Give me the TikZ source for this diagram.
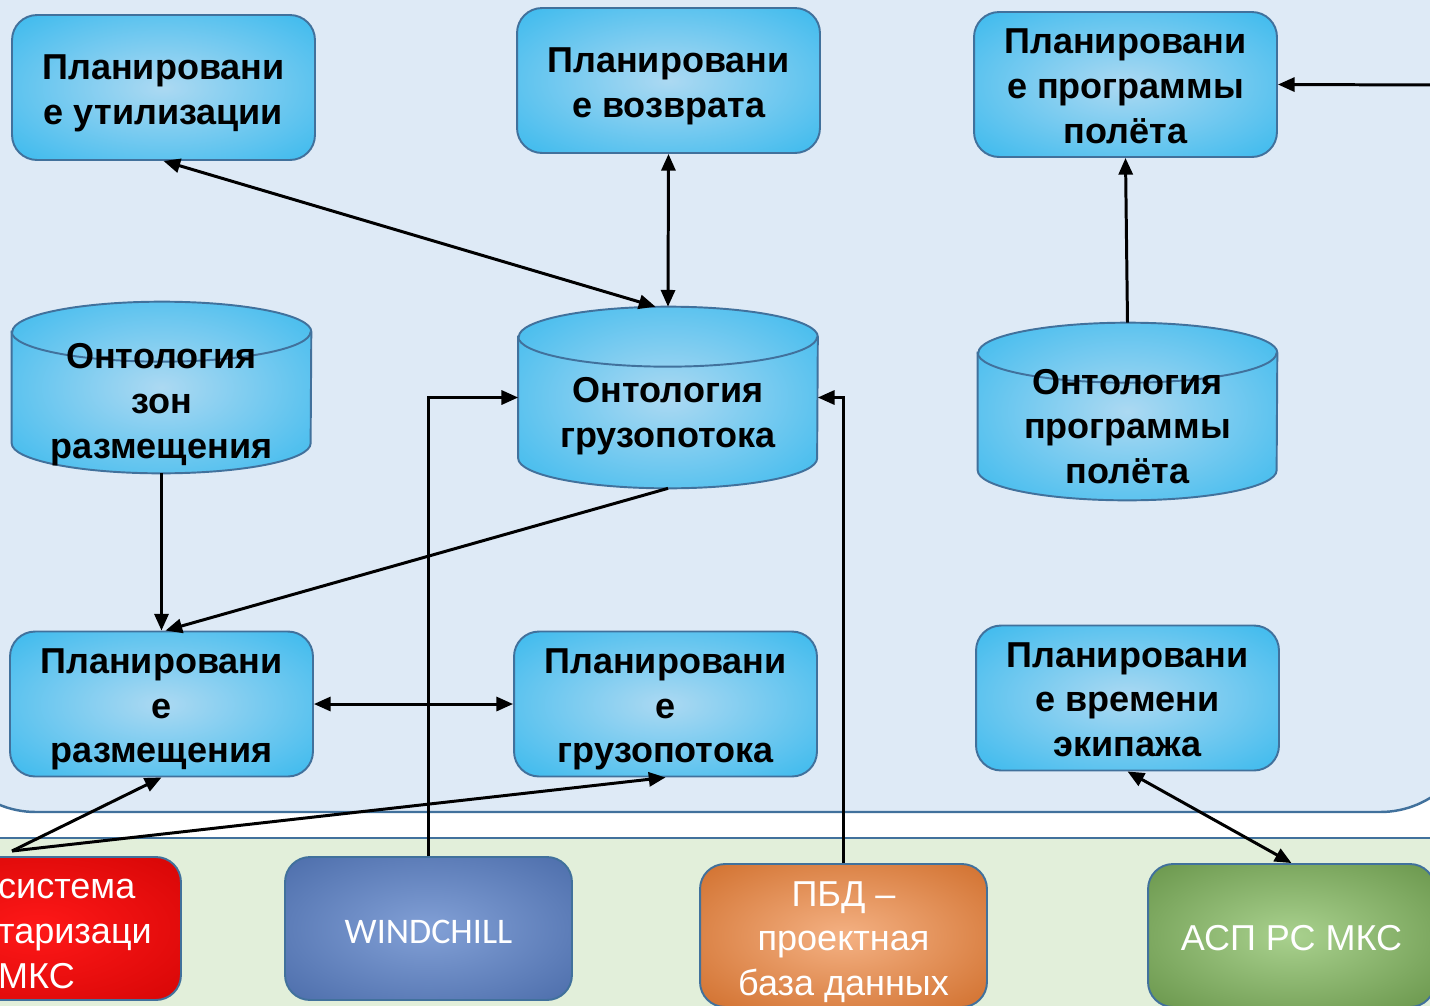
\documentclass[tikz,border=0pt]{standalone}
\usepackage{fontspec}
\setmainfont{Liberation Sans}
\newfontfamily\carlito{Carlito}
\usetikzlibrary{arrows.meta}

\definecolor{panelblue}{RGB}{222,234,246}
\definecolor{panelgreen}{RGB}{226,239,218}
\definecolor{rim}{RGB}{65,113,156}
\definecolor{skyin}{RGB}{172,217,242}
\definecolor{skyout}{RGB}{20,175,236}
\definecolor{redin}{RGB}{255,24,24}
\definecolor{redout}{RGB}{200,0,0}
\definecolor{navyin}{RGB}{130,160,214}
\definecolor{navyout}{RGB}{58,92,156}
\definecolor{rustin}{RGB}{244,177,131}
\definecolor{rustout}{RGB}{197,90,17}
\definecolor{mossin}{RGB}{169,209,142}
\definecolor{mossout}{RGB}{84,130,53}

\pgfdeclareradialshading{skyglow}{\pgfpoint{0bp}{0bp}}{color(0bp)=(skyin); color(48bp)=(skyout); color(50bp)=(skyout)}
\pgfdeclareradialshading{redglow}{\pgfpoint{0bp}{0bp}}{color(0bp)=(redin); color(48bp)=(redout); color(50bp)=(redout)}
\pgfdeclareradialshading{navyglow}{\pgfpoint{0bp}{0bp}}{color(0bp)=(navyin); color(48bp)=(navyout); color(50bp)=(navyout)}
\pgfdeclareradialshading{rustglow}{\pgfpoint{0bp}{0bp}}{color(0bp)=(rustin); color(48bp)=(rustout); color(50bp)=(rustout)}
\pgfdeclareradialshading{mossglow}{\pgfpoint{0bp}{0bp}}{color(0bp)=(mossin); color(48bp)=(mossout); color(50bp)=(mossout)}

% extra room above the first line of a box
\newcommand{\lift}[1]{\rule{0pt}{#1}}

% drum outline drawn round a named node
\newcommand{\ontdrum}[1]{%
  \shade[shading=skyglow, draw=rim, line width=1.1pt]
    ([yshift=-0.6cm]#1.north west) -- ([yshift=0.6cm]#1.south west)
    arc[start angle=180, end angle=360, x radius=2.99cm, y radius=0.6cm]
    -- ([yshift=-0.6cm]#1.north east)
    arc[start angle=0, end angle=180, x radius=2.99cm, y radius=0.6cm] -- cycle;
  \draw[rim, line width=1.1pt] ([yshift=-0.6cm]#1.north west)
    arc[start angle=180, end angle=360, x radius=2.99cm, y radius=0.6cm];
}

\tikzset{
  panel/.style={draw=rim, line width=1.4pt},
  plan/.style={draw=rim, line width=1.1pt, shading=skyglow, rounded corners=0.5cm,
    minimum width=6.06cm, minimum height=2.9cm, inner sep=1pt, align=center,
    font=\fontsize{20.5}{25.5}\selectfont\bfseries},
  ontology/.style={minimum width=5.98cm, inner sep=0pt},
  ontlabel/.style={align=center, yshift=-0.34cm,
    font=\fontsize{20.5}{25.5}\selectfont\bfseries},
  source/.style={draw=rim, line width=1.1pt, rounded corners=0.5cm,
    minimum width=5.74cm, minimum height=2.86cm, inner sep=0pt, align=center,
    text=white, font=\fontsize{20.5}{25.5}\selectfont},
  link/.style={line width=1.7pt, black}
}

\begin{document}
\begin{tikzpicture}[x=0.02cm, y=-0.02cm, >={Triangle[length=9.5pt,width=8pt]}]
  \useasboundingbox (0,0) rectangle (1430,1005);
  \clip (0,0) rectangle (1430,1005);

  % panels
  \fill[white] (0,0) rectangle (1430,1005);
  \draw[panel, fill=panelblue, rounded corners=1.92cm] (-60,-60) rectangle (1476,812);
  \draw[panel, fill=panelgreen] (-60,838) rectangle (1500,1080);

  % planning
  \node[plan] (util) at (163.5,87.5) {\lift{20.3pt}Планировани\\е утилизации};
  \node[plan] (return) at (668.5,80.5) {\lift{20.3pt}Планировани\\е возврата};
  \node[plan] (flight) at (1125.5,84.5) {\lift{16pt}Планировани\\е программы\\полёта};
  \node[plan] (place) at (161.5,704) {\lift{20.3pt}Планировани\\е\\размещения};
  \node[plan] (cargo) at (665.5,704) {\lift{20.3pt}Планировани\\е\\грузопотока};
  \node[plan] (crew) at (1127.5,698) {\lift{16pt}Планировани\\е времени\\экипажа};

  % ontologies
  \node[ontology, minimum height=3.42cm] (ontzones) at (161.5,387.5) {};
  \node[ontology, minimum height=3.62cm] (ontcargo) at (668,397.5) {};
  \node[ontology, minimum height=3.54cm] (ontflight) at (1127.5,411.5) {};
  \ontdrum{ontzones}
  \ontdrum{ontcargo}
  \ontdrum{ontflight}
  \node[ontlabel] (ontzonestext) at (ontzones) {Онтология\\зон\\размещения};
  \node[ontlabel, yshift=-0.04cm] (ontcargotext) at (ontcargo) {Онтология\\грузопотока};
  \node[ontlabel, yshift=0.04cm] (ontflighttext) at (ontflight) {Онтология\\программы\\полёта};

  % external systems
  \node[source, shading=redglow] (passport) at (37.5,928.5) {};
  \node[anchor=west, align=left, text=white,
    font=\fontsize{20.5}{25.5}\selectfont] (passporttext) at (-8,934)
    {система\\таризаци\\МКС};
  \node[source, shading=navyglow, font=\carlito\fontsize{20.5}{25.5}\selectfont]
    (wind) at (428.5,928.5) {\lift{17pt}WINDCHILL};
  \node[source, shading=rustglow] (pbd) at (843.5,935.5)
    {\lift{21.5pt}ПБД –\\проектная\\база данных};
  \node[source, shading=mossglow] (asp) at (1291.5,935.5) {\lift{17pt}АСП РС МКС};

  \coordinate (fan) at (12,851);
  \coordinate (inflight) at (1440,85);

  % links
  \draw[link, <->] (util.south) -- ([xshift=-0.25cm]ontcargo.north);
  \draw[link, <->] (return.south) -- (ontcargo.north);
  \draw[link, ->] (ontflight.north) -- (flight.south);
  \draw[link, ->] (inflight) -- (flight.east);
  \draw[link, ->] (ontzones.south) -- (place.north);
  \draw[link, ->] (ontcargo.south) -- ([xshift=0.08cm]place.north);
  \draw[link, <->] (place.east) -- (cargo.west);
  \draw[link, ->] (fan) -- (place.south);
  \draw[link, ->] (fan) -- (cargo.south);
  \draw[link, ->] (wind.north) |- (ontcargo.west);
  \draw[link, ->] (pbd.north) |- (ontcargo.east);
  \draw[link, <->] (crew.south) -- (asp.north);
\end{tikzpicture}
\end{document}
